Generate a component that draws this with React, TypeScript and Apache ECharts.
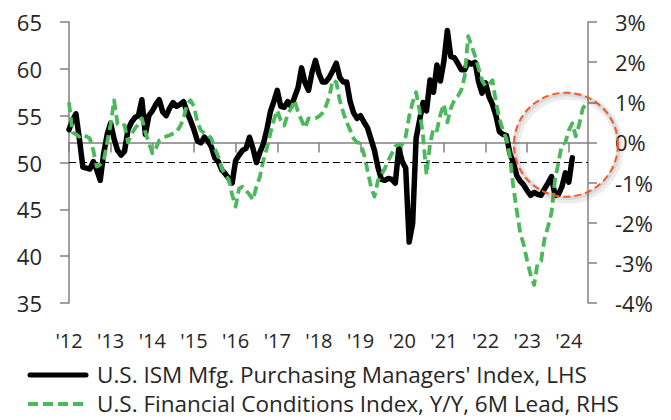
import React, { useEffect, useRef } from "react";
import * as echarts from "echarts";

// Monthly values starting Jan 2012
const START_YEAR = 2012;
const ismPmi = [
  53.5, 54.5, 55.2, 52.5, 49.5, 49.4, 49.3, 50.1, 49.2, 48.1, 51.0, 53.0,
  54.2, 52.5, 51.3, 50.8, 51.2, 53.5, 54.3, 54.8, 55.0, 56.7, 53.0, 55.0,
  55.5, 56.2, 56.7, 55.4, 55.0, 55.8, 56.4, 56.0, 56.2, 56.5, 55.4, 54.5,
  53.5, 52.3, 52.1, 52.7, 52.3, 51.7, 50.5, 50.1, 49.2, 48.8, 48.3, 47.8,
  50.2, 50.8, 51.3, 51.5, 52.7, 51.5, 50.0, 51.1, 52.0, 53.5, 55.4, 56.5,
  57.7, 56.0, 55.9, 56.5, 56.0, 57.0, 58.0, 60.1, 58.5, 57.7, 59.6, 60.9,
  59.5, 58.6, 58.6, 59.1, 59.8, 60.6, 59.1, 58.6, 58.6, 56.5, 55.3, 54.7,
  55.0, 54.3, 53.7, 52.5, 51.3, 49.5, 48.2, 48.1, 48.3, 48.2, 47.8, 51.5,
  50.1, 49.4, 41.5, 43.5, 52.6, 54.5, 56.4, 55.5, 58.8, 57.5, 60.4, 58.7,
  60.8, 64.1, 61.3, 61.2, 60.6, 59.9, 59.9, 60.7, 60.5, 60.7, 58.6, 57.4,
  58.5, 57.0, 56.2, 55.0, 53.3, 53.0, 52.9, 51.0, 50.0, 48.6, 48.0, 47.6,
  47.0, 46.5, 46.8, 46.6, 46.5, 47.2, 47.8, 48.5, 46.5, 46.6, 47.4, 48.9,
  47.9, 50.5,
];
const fciYoY6mLead = [
  1.0, 0.25, 0.2, 0.14, 0.2, 0.15, 0.1, -0.2, -0.6, -0.55, -0.45, 0.0,
  0.45, 1.05, 0.45, 0.4, 0.43, 0.0, 0.2, 0.35, 0.45, 0.6, 0.25, 0.0,
  -0.27, -0.15, 0.05, 0.1, 0.15, 0.18, 0.22, 0.26, 0.4, 0.6, 0.95, 1.05,
  0.9, 0.5, 0.3, 0.23, 0.18, 0.1, -0.15, -0.35, -0.65, -0.8, -0.92, -1.3,
  -1.6, -1.15, -1.1, -1.2, -1.3, -1.43, -1.1, -0.85, -0.44, -0.15, 0.23, 0.55,
  0.8, 0.55, 0.42, 0.7, 0.85, 1.05, 0.75, 0.55, 0.36, 0.6, 0.58, 0.6,
  0.65, 0.73, 0.9, 1.15, 1.55, 1.5, 1.05, 0.75, 0.5, 0.31, 0.1, 0.0,
  -0.02, -0.3, -0.7, -1.1, -1.35, -0.95, -0.8, -0.65, -0.45, -0.28, -0.1, -0.05,
  -0.05, 0.15, 0.65, 1.0, 1.25, 0.8, 0.15, -0.8, -0.05, 0.36, 0.3, 0.7,
  0.95, 0.5, 0.85, 1.05, 1.15, 1.3, 1.65, 2.65, 2.4, 2.15, 1.85, 1.55,
  1.4, 1.45, 1.55, 1.0, 0.6, 0.3, 0.1, -0.35, -1.1, -1.7, -2.25, -2.55,
  -2.95, -3.3, -3.55, -3.0, -2.95, -2.4, -2.1, -1.75, -0.95, -0.5, -0.05, 0.0,
  0.3, 0.48, 0.15, 0.45, 0.85, 0.95,
];
const leftTicks = { min: 35, max: 65, step: 5 };
const rightTicks = { min: -4, max: 3, step: 1 };
const xRange = { min: 2012, max: 2024.46 };
const legendNames = [
  "U.S. ISM Mfg. Purchasing Managers' Index, LHS",
  "U.S. Financial Conditions Index, Y/Y, 6M Lead, RHS",
];
const neutralLevel = 50;
const highlight = { x: 2023.93, y: 51.9 };

const FONT = "'Open Sans', sans-serif";
const TXT = "#262626";
const AXIS = "#808080";
const BLACK = "#000000";
const GREEN = "#4cb85c";
const RED = "#f15a29";

export default function App() {
  const ref = useRef<HTMLDivElement>(null);
  useEffect(() => {
    if (!ref.current) return;
    const chart = echarts.init(ref.current, undefined, { renderer: "svg" });
    const toXY = (arr: number[]) => arr.map((v, i) => [START_YEAR + i / 12, v]);
    chart.setOption({
      animation: false,
      textStyle: { fontFamily: FONT },
      grid: { left: 69, right: 83, top: 22, bottom: 117 },
      xAxis: {
        type: "value",
        min: xRange.min,
        max: xRange.max,
        interval: 1,
        axisLine: { lineStyle: { color: AXIS, width: 1.5 } },
        axisTick: { length: 10, lineStyle: { color: AXIS, width: 1.5 } },
        splitLine: { show: false },
        axisLabel: {
          margin: 27,
          fontSize: 20,
          color: TXT,
          fontFamily: FONT,
          formatter: (v: number) => "'" + String(Math.round(v)).slice(2),
        },
      },
      yAxis: [
        {
          type: "value",
          min: leftTicks.min,
          max: leftTicks.max,
          interval: leftTicks.step,
          axisLine: { show: true, lineStyle: { color: AXIS, width: 1.5 } },
          axisTick: { show: true, length: 9, lineStyle: { color: AXIS, width: 1.5 } },
          splitLine: { show: false },
          axisLabel: { margin: 27, fontSize: 22, color: TXT, fontFamily: FONT },
        },
        {
          type: "value",
          position: "right",
          min: rightTicks.min,
          max: rightTicks.max,
          interval: rightTicks.step,
          axisLine: { show: true, lineStyle: { color: AXIS, width: 1.5 } },
          axisTick: { show: true, length: 9, lineStyle: { color: AXIS, width: 1.5 } },
          splitLine: { show: false },
          axisLabel: {
            margin: 27,
            fontSize: 22,
            color: TXT,
            fontFamily: FONT,
            formatter: (v: number) => v + "%",
          },
        },
      ],
      series: [
        {
          name: legendNames[0],
          type: "line",
          yAxisIndex: 0,
          data: toXY(ismPmi),
          symbol: "none",
          lineStyle: { color: BLACK, width: 5.5, join: "round", cap: "round" },
          itemStyle: { color: BLACK },
          z: 2,
          markLine: {
            silent: true,
            symbol: "none",
            label: { show: false },
            lineStyle: { color: BLACK, width: 1.2, type: [7, 4] },
            data: [{ yAxis: neutralLevel }],
          },
        },
        {
          name: legendNames[1],
          type: "line",
          yAxisIndex: 1,
          data: toXY(fciYoY6mLead),
          symbol: "none",
          lineStyle: { color: GREEN, width: 3.8, type: [10, 5], join: "round" },
          itemStyle: { color: GREEN },
          z: 3,
        },
      ],
    });
    const c = chart.convertToPixel({ xAxisIndex: 0, yAxisIndex: 0 }, [highlight.x, highlight.y]) as number[];
    chart.setOption({
      graphic: [
        {
          type: "circle",
          shape: { cx: c[0] + 2, cy: c[1] + 3, r: 52 },
          z: 9,
          silent: true,
          style: { fill: "none", stroke: "rgba(0,0,0,0.07)", lineWidth: 8 },
        },
        {
          type: "circle",
          shape: { cx: c[0] + 1, cy: c[1] + 1.5, r: 52 },
          z: 9,
          silent: true,
          style: { fill: "none", stroke: "rgba(0,0,0,0.08)", lineWidth: 4 },
        },
        {
          type: "circle",
          shape: { cx: c[0], cy: c[1], r: 52 },
          z: 10,
          silent: true,
          style: { fill: "none", stroke: RED, lineWidth: 2, lineDash: [7, 4] },
        },
        // legend
        {
          type: "line",
          shape: { x1: 30, y1: 375, x2: 86, y2: 375 },
          style: { stroke: BLACK, lineWidth: 5, lineCap: "round" },
        },
        {
          type: "text",
          x: 97,
          y: 374,
          style: {
            text: legendNames[0],
            fontFamily: FONT,
            fontSize: 22.5,
            fill: TXT,
            verticalAlign: "middle",
          },
        },
        {
          type: "line",
          shape: { x1: 28, y1: 404, x2: 84, y2: 404 },
          style: { stroke: GREEN, lineWidth: 4, lineDash: [10, 5] },
        },
        {
          type: "text",
          x: 97,
          y: 403,
          style: {
            text: legendNames[1],
            fontFamily: FONT,
            fontSize: 22.5,
            fill: TXT,
            verticalAlign: "middle",
          },
        },
      ],
    });
    return () => chart.dispose();
  }, []);
  return <div ref={ref} style={{ width: 671, height: 420, position: "absolute", left: 0, top: 0 }} />;
}
